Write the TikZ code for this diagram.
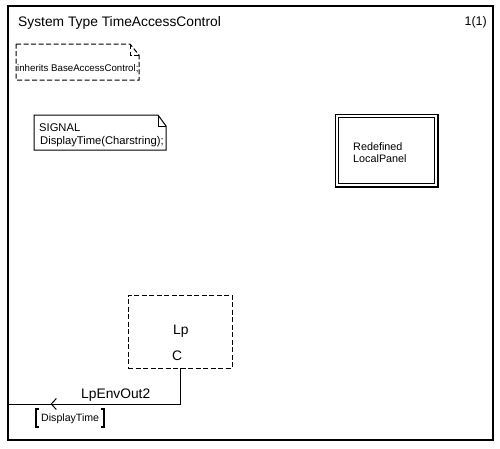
\documentclass[tikz,border=0pt]{standalone}
\usepackage{fontspec}
\setmainfont{Liberation Sans}
\usetikzlibrary{decorations.markings,arrows.meta}
\begin{document}
\begin{tikzpicture}[x=1pt,y=-1pt,
  frame/.style={draw=black,line width=1.6pt},
  notebox/.style={draw=black,line width=1pt},
  dashline/.style={dash pattern=on 5pt off 2.5pt},
  lbl/.style={inner sep=0pt,anchor=base west,font=\fontsize{#1}{#1}\selectfont},
  conn/.style={draw=black,line width=0.9pt}]
\useasboundingbox (0,0) rectangle (500,448);
\fill[white] (0,0) rectangle (500,448);
% frame
\draw[frame] (8,6) rectangle (493,440);
\node[lbl=13.8] (title) at (18,26) {System Type TimeAccessControl};
\node[lbl=12.5,anchor=base east] (page) at (487,25) {1(1)};
% inherits note
\draw[notebox,dashline] (16,44) -- (130,44) -- (139,55) -- (139,80) -- (16,80) -- cycle;
\draw[notebox,dashline] (130,44) -- (130,55) -- (139,55);
\node[lbl=9.7] (inh) at (17,71) {inherits BaseAccessControl;};
% signal note
\draw[notebox] (34,115) -- (158,115) -- (166,126) -- (166,150) -- (34,150) -- cycle;
\draw[notebox] (158,115) -- (158,126) -- (166,126);
\node[lbl=11.2] (sig1) at (39,131) {SIGNAL};
\node[lbl=11.2] (sig2) at (40,144) {DisplayTime(Charstring);};
% redefined block
\draw[line width=0.9pt] (335,114) rectangle (438,187);
\draw[line width=1.3pt] (438,114) -- (438,187) -- (335,187);
\draw[line width=0.8pt] (338.5,117.5) rectangle (434.5,183.5);
\node[lbl=10.8] (red1) at (353,150) {Redefined};
\node[lbl=10.8] (red2) at (353,162) {LocalPanel};
% Lp block
\node[draw=black,line width=1pt,dashline,minimum width=104pt,minimum height=73pt,inner sep=0pt] (lp) at (180,331.5) {};
\node[lbl=13.8] (lpname) at (173,334) {Lp};
\node[lbl=13.8] (gate) at (172,360) {C};
\coordinate (cpt) at (180,368);
\coordinate (env) at (8,404);
\draw[conn,postaction={decorate},decoration={markings,mark=at position 0.795 with {\arrow{Straight Barb[length=5pt,width=11pt,line width=1pt]}}}] (cpt) |- (env);
\node[lbl=13.8] (chname) at (81,398) {LpEnvOut2};
\node[lbl=10.6] (siglist) at (41,421) {DisplayTime};
\draw[line width=1.5pt] (39,409) -- (36,409) -- (36,427) -- (39,427);
\draw[line width=1.5pt] (101,409) -- (104,409) -- (104,427) -- (101,427);
\end{tikzpicture}
\end{document}
